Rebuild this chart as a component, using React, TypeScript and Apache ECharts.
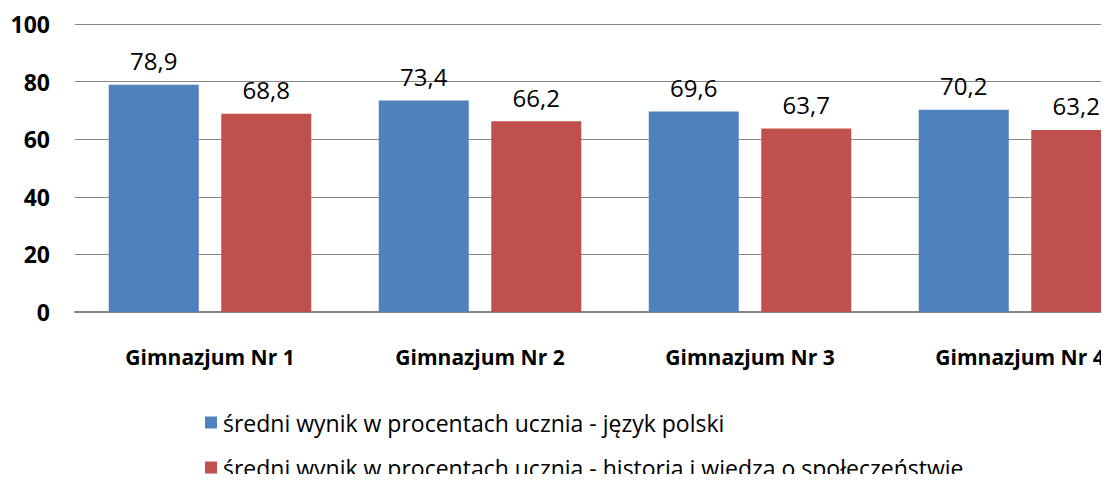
import React, { useEffect, useRef } from "react";
import * as echarts from "echarts";

const categories = ["Gimnazjum Nr 1", "Gimnazjum Nr 2", "Gimnazjum Nr 3", "Gimnazjum Nr 4"];
const seriesNames = [
  "średni wynik w procentach ucznia - język polski",
  "średni wynik w procentach ucznia - historia i wiedza o społeczeństwie",
];
const polski = [78.9, 73.4, 69.6, 70.2];
const historia = [68.8, 66.2, 63.7, 63.2];
const colors = ["#4F81BD", "#C0504D"];

const fontFamily = "'Open Sans', 'Noto Sans', sans-serif";

export default function App() {
  const ref = useRef<HTMLDivElement>(null);
  useEffect(() => {
    if (!ref.current) return;
    const chart = echarts.init(ref.current, null, { renderer: "svg" });
    const label = {
      show: true,
      position: "top" as const,
      distance: 12,
      color: "#000",
      fontSize: 24,
      fontFamily,
      formatter: (p: any) => String(p.value).replace(".", ","),
    };
    chart.setOption({
      animation: false,
      grid: { left: 75, top: 24, width: 1080, height: 288, containLabel: false },
      legend: {
        orient: "vertical",
        left: 200,
        top: 406,
        itemWidth: 12,
        itemHeight: 12,
        itemGap: 22,
        icon: "rect",
        textStyle: { fontSize: 23, lineHeight: 23, color: "#000", fontFamily, padding: [0, 0, 0, 1] },
        data: seriesNames,
      },
      xAxis: {
        type: "category",
        data: categories,
        axisLine: { show: true, lineStyle: { color: "#868686", width: 2 } },
        axisTick: { show: false },
        axisLabel: {
          margin: 34,
          fontSize: 21,
          fontWeight: "bold",
          color: "#000",
          fontFamily,
        },
      },
      yAxis: {
        type: "value",
        min: 0,
        max: 100,
        interval: 20,
        axisLine: { show: false },
        axisTick: { show: false },
        splitLine: { lineStyle: { color: "#868686", width: 1 } },
        axisLabel: {
          margin: 25,
          fontSize: 23,
          fontWeight: "bold",
          color: "#000",
          fontFamily,
        },
      },
      series: [
        {
          name: seriesNames[0],
          type: "bar",
          data: polski,
          barWidth: 90,
          barGap: "25%",
          itemStyle: { color: colors[0] },
          label,
        },
        {
          name: seriesNames[1],
          type: "bar",
          data: historia,
          barWidth: 90,
          itemStyle: { color: colors[1] },
          label,
        },
      ],
    });
    return () => chart.dispose();
  }, []);
  return (
    <div style={{ width: 1109, height: 482, margin: -8, overflow: "hidden", position: "relative" }}>
      <div ref={ref} style={{ width: 1170, height: 560 }} />
    </div>
  );
}
